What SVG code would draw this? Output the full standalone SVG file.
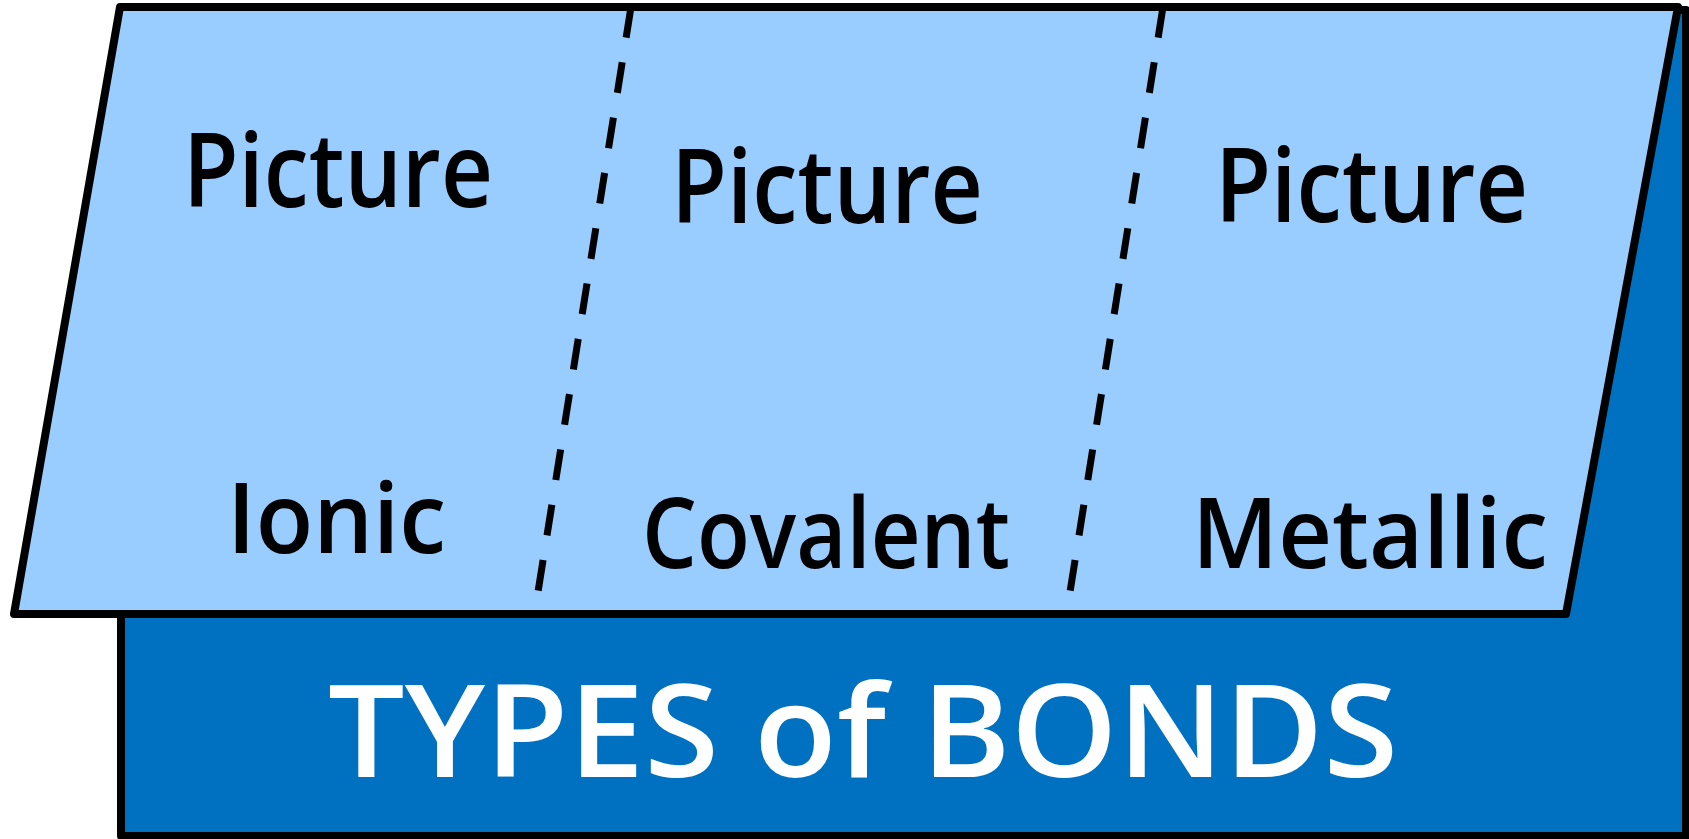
<svg xmlns="http://www.w3.org/2000/svg" width="1689" height="839" viewBox="0 0 1689 839">
  <style>
    .lbl { font-family: "Comic Sans MS", "Open Sans", "Liberation Sans", sans-serif; font-weight: 600; fill: #000000; }
    .title { font-family: "Comic Sans MS", "Open Sans", "Liberation Sans", sans-serif; font-weight: 600; fill: #FFFFFF; }
    .edge { stroke: #000000; stroke-width: 8; stroke-linejoin: round; }
    .dash { stroke: #000000; stroke-width: 7; stroke-dasharray: 31 25; fill: none; }
  </style>
  <rect x="0" y="0" width="1689" height="839" fill="#FFFFFF"/>
  <g id="base">
    <rect class="edge" x="121" y="10" width="1565" height="826" fill="#0070C0"/>
    <text class="title" x="328" y="777" font-size="128" textLength="1070" lengthAdjust="spacingAndGlyphs">TYPES of BONDS</text>
  </g>
  <g id="flap">
    <polygon class="edge" points="120,7 1678,7 1566,614 14,614" fill="#99CCFF"/>
  </g>
  <g id="connectors">
    <line class="dash" x1="631" y1="7" x2="538" y2="592"/>
    <line class="dash" x1="1163" y1="7" x2="1070" y2="592"/>
  </g>
  <g id="ionic">
    <text class="lbl" x="183" y="207" font-size="103" textLength="310" lengthAdjust="spacingAndGlyphs">Picture</text>
    <text class="lbl" x="227" y="553" font-size="98" textLength="219" lengthAdjust="spacingAndGlyphs">Ionic</text>
  </g>
  <g id="covalent">
    <text class="lbl" x="671" y="223" font-size="103" textLength="312" lengthAdjust="spacingAndGlyphs">Picture</text>
    <text class="lbl" x="642" y="568" font-size="98" textLength="368" lengthAdjust="spacingAndGlyphs">Covalent</text>
  </g>
  <g id="metallic">
    <text class="lbl" x="1215" y="222" font-size="103" textLength="313" lengthAdjust="spacingAndGlyphs">Picture</text>
    <text class="lbl" x="1192" y="568" font-size="98" textLength="356" lengthAdjust="spacingAndGlyphs">Metallic</text>
  </g>
</svg>
